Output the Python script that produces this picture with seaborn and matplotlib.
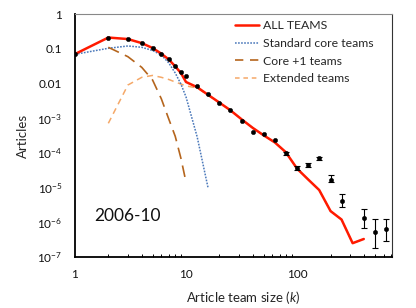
import numpy as np
import pandas as pd
import matplotlib
matplotlib.use("Agg")
import matplotlib.pyplot as plt
import seaborn as sns
from matplotlib.lines import Line2D

# team sizes (log bins above 10)
k_all = [1, 2, 3, 4, 5, 6, 7, 8, 9, 10, 12.6, 15.8, 20, 25, 32, 40, 50, 63, 79,
         100, 126, 158, 200, 251, 316, 398]
all_teams = [0.07, 0.21, 0.19, 0.145, 0.105, 0.072, 0.049, 0.031, 0.02, 0.011,
             0.0078, 0.0047, 0.0028, 0.0017, 9e-4, 5.2e-4, 3.2e-4, 2.0e-4, 1.05e-4,
             3.5e-5, 1.7e-5, 8.5e-6, 2.1e-6, 1.2e-6, 2.5e-7, 3.3e-7]

k_core = [1, 2, 3, 4, 5, 6, 7, 8, 9, 10, 12.6, 15.8]
core = [0.069, 0.103, 0.12, 0.11, 0.089, 0.066, 0.039, 0.020, 0.0096, 0.0041,
        2.9e-4, 9.8e-6]

k_core1 = [2, 3, 4, 5, 6, 7, 8, 9, 10]
core1 = [0.11, 0.059, 0.029, 0.0126, 0.0036, 9.4e-4, 3.0e-4, 7e-5, 1.44e-5]

k_ext = [2, 3, 4, 5, 6, 7, 8, 9, 10, 12.6]
ext = [7.1e-4, 0.009, 0.015, 0.017, 0.015, 0.013, 0.011, 0.0096, 0.0085, 0.0074]

# empirical points
k_obs = [1, 2, 3, 4, 5, 6, 7, 8, 9, 10, 12.6, 15.8, 20, 25, 32, 40, 50, 63, 79,
         100, 126, 158, 200, 251, 398, 501, 631]
obs = [0.07, 0.2, 0.19, 0.146, 0.105, 0.072, 0.049, 0.032, 0.022, 0.016, 0.0086,
       0.0049, 0.0027, 0.0017, 8.5e-4, 4.1e-4, 3.5e-4, 2.4e-4, 9.7e-5, 3.7e-5,
       4.4e-5, 6.9e-5, 1.7e-5, 4.2e-6, 1.35e-6, 5.4e-7, 6.3e-7]
# error bars for the tail
k_err = [79, 100, 126, 158, 200, 251, 398, 501, 631]
err_center = [9.7e-5, 3.7e-5, 4.4e-5, 6.9e-5, 1.7e-5, 4.2e-6, 1.35e-6, 5.4e-7, 6.3e-7]
err_low = [8.8e-5, 3.25e-5, 3.85e-5, 6.3e-5, 1.41e-5, 2.8e-6, 6.8e-7, 1.84e-7, 2.9e-7]
err_high = [1.07e-4, 4.2e-5, 5.0e-5, 7.6e-5, 2.25e-5, 6.4e-6, 2.35e-6, 1.21e-6, 1.24e-6]

ytick_vals = [1, 0.1, 0.01, 1e-3, 1e-4, 1e-5, 1e-6, 1e-7]
ytick_labels = ['1', '0.1', '0.01', '10$^{-3}$', '10$^{-4}$', '10$^{-5}$',
                '10$^{-6}$', '10$^{-7}$']
xtick_vals = [1, 10, 100]
xtick_labels = ['1', '10', '100']
legend_labels = ['ALL TEAMS', 'Standard core teams', 'Core +1 teams', 'Extended teams']

sns.set_theme(style="white")
plt.rcParams['font.family'] = ['Lato', 'DejaVu Sans']
plt.rcParams['mathtext.fontset'] = 'custom'
plt.rcParams['mathtext.rm'] = 'Lato'
plt.rcParams['mathtext.it'] = 'Lato:italic'

fig = plt.figure(figsize=(4.16, 3.08), dpi=100)
ax = fig.add_axes([0.180, 0.1656, 0.7616, 0.7889])

# extended teams drawn first (under the red line), continues with the total in the tail
ext_df = pd.DataFrame({'k': k_ext + k_all[12:], 'y': ext + all_teams[12:]})
sns.lineplot(data=ext_df, x='k', y='y', ax=ax, color='#F5A868', lw=1.1,
             linestyle=(0, (4, 3)), label='_nolegend_', sort=False)

sns.lineplot(x=k_core, y=core, ax=ax, color='#4A78BA', lw=1.1,
             linestyle=(0, (1.1, 0.9)), label='_nolegend_', sort=False)
sns.lineplot(x=k_core1, y=core1, ax=ax, color='#B5651D', lw=1.2,
             linestyle=(0, (7, 4)), label='_nolegend_', sort=False)
sns.lineplot(x=k_all, y=all_teams, ax=ax, color='#FF1A00', lw=1.8,
             label='_nolegend_', sort=False)

ax.errorbar(k_err, err_center,
            yerr=[np.array(err_center) - np.array(err_low),
                  np.array(err_high) - np.array(err_center)],
            fmt='none', ecolor='black', elinewidth=0.8, capsize=2, capthick=0.8)
sns.scatterplot(x=k_obs, y=obs, ax=ax, color='black', s=10, edgecolor='black',
                linewidth=0.3, zorder=5, legend=False)

ax.set_xscale('log')
ax.set_yscale('log')
ax.set_xlim(1, 710)
ax.set_ylim(1e-7, 1)

ax.set_yticks(ytick_vals)
ax.set_yticklabels(ytick_labels)
ax.set_xticks(xtick_vals)
ax.set_xticklabels(xtick_labels)
ax.yaxis.set_minor_locator(matplotlib.ticker.NullLocator())
ax.xaxis.set_minor_locator(matplotlib.ticker.LogLocator(base=10, subs=np.arange(2, 10)))
ax.xaxis.set_minor_formatter(matplotlib.ticker.NullFormatter())
ax.tick_params(axis='both', which='major', direction='in', length=3.5, width=0.8,
               color='black', labelsize=8.5, labelcolor='#111111')
ax.tick_params(axis='x', which='major', pad=9)
ax.tick_params(axis='y', which='major', pad=9)
ax.tick_params(axis='x', which='minor', direction='in', length=2.5, width=0.7,
               color='black', bottom=True)

for side in ['left', 'bottom']:
    ax.spines[side].set_color('black')
    ax.spines[side].set_linewidth(1.3)
ax.spines['top'].set_color('#888888')
ax.spines['top'].set_linewidth(0.8)
ax.spines['right'].set_color('#333333')
ax.spines['right'].set_linewidth(0.8)

ax.set_ylabel('Articles', fontsize=9.5, labelpad=6)
ax.set_xlabel('Article team size ($k$)', fontsize=9.5)
ax.xaxis.set_label_coords(0.53, -0.13)

ax.text(3.0, 1.5e-6, '2006-10', fontsize=12.5, ha='center', va='center', color='#111111')

handles = [
    Line2D([], [], color='#FF1A00', lw=1.8),
    Line2D([], [], color='#4A78BA', lw=1.1, linestyle=(0, (1.1, 0.9))),
    Line2D([], [], color='#B5651D', lw=1.2, linestyle=(0, (5, 4))),
    Line2D([], [], color='#F5A868', lw=1.1, linestyle=(0, (3, 2.5))),
]
ax.legend(handles, legend_labels, loc='upper left', bbox_to_anchor=(0.49, 0.995),
          frameon=False, fontsize=8.8, handlelength=2.0, handletextpad=0.3,
          labelspacing=0.55, borderaxespad=0)

fig.savefig('out.png', dpi=100)
